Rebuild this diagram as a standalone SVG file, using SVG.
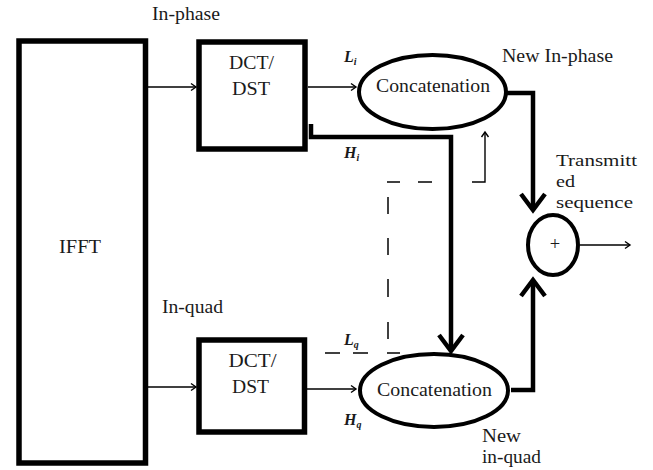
<svg xmlns="http://www.w3.org/2000/svg" width="653" height="470" viewBox="0 0 653 470">
<defs>
<style>
.box{fill:#fff;stroke:#000;stroke-width:5.5}
.ell{fill:#fff;stroke:#000;stroke-width:4}
.t{font-family:"Liberation Serif","Times New Roman",serif;font-size:18.5px;fill:#1a1a1a}
.ts{font-family:"Liberation Serif","Times New Roman",serif;font-size:17px;fill:#1a1a1a}
.it{font-family:"Liberation Serif","Times New Roman",serif;font-style:italic;font-weight:bold;font-size:16px;fill:#1a1a1a}
.sub{font-size:10px}
.thin{fill:none;stroke:#000;stroke-width:1.4}
.thick{fill:none;stroke:#000;stroke-width:4.5}
.dash{fill:none;stroke:#000;stroke-width:1.5}
</style>
<marker id="ah" markerUnits="userSpaceOnUse" markerWidth="10" markerHeight="10" refX="7" refY="5" orient="auto">
<path d="M2,1.5 L7,5 L2,8.5" fill="none" stroke="#000" stroke-width="1.4"/>
</marker>
<marker id="ahT" markerUnits="userSpaceOnUse" markerWidth="30" markerHeight="30" refX="20" refY="15" orient="auto">
<path d="M4,3 L20,15 L4,27" fill="none" stroke="#000" stroke-width="4.5"/>
</marker>
</defs>

<g id="connectors">
<line class="thin" x1="146" y1="87" x2="196" y2="87" marker-end="url(#ah)"/>
<line class="thin" x1="308" y1="87" x2="356" y2="87" marker-end="url(#ah)"/>
<line class="thin" x1="146" y1="387" x2="196" y2="387" marker-end="url(#ah)"/>
<line class="thin" x1="307" y1="389" x2="356" y2="389" marker-end="url(#ah)"/>
<polyline class="thin" points="472,182 485,182 485,132" marker-end="url(#ah)"/>
<polyline class="thick" points="311,124 311,137 451,137 451,351" marker-end="url(#ahT)"/>
<polyline class="thick" points="506,93 533,93 533,210" marker-end="url(#ahT)"/>
<polyline class="thick" points="511,390 533,390 533,280" marker-end="url(#ahT)"/>
<line class="thin" x1="580" y1="245" x2="630" y2="245" marker-end="url(#ah)"/>
<g id="dashed">
<line class="dash" x1="387" y1="182" x2="400" y2="182"/>
<line class="dash" x1="418" y1="182" x2="432" y2="182"/>
<line class="dash" x1="388" y1="197" x2="388" y2="214"/>
<line class="dash" x1="388" y1="238" x2="388" y2="255"/>
<line class="dash" x1="388" y1="279" x2="388" y2="297"/>
<line class="dash" x1="388" y1="322" x2="388" y2="339"/>
<line class="dash" x1="325" y1="353" x2="340" y2="353"/>
<line class="dash" x1="353" y1="353" x2="368" y2="353"/>
<line class="dash" x1="387" y1="353" x2="400" y2="353"/>
</g>
</g>

<g id="ifft">
<rect class="box" x="19" y="41" width="126.5" height="422"/>
<text class="t" x="80" y="253" text-anchor="middle" textLength="42" lengthAdjust="spacingAndGlyphs">IFFT</text>
</g>

<g id="dct-upper">
<rect class="box" x="199" y="42" width="106" height="107"/>
<text class="t" x="251.5" y="69" text-anchor="middle" textLength="45" lengthAdjust="spacingAndGlyphs">DCT/</text>
<text class="t" x="251" y="95" text-anchor="middle" textLength="38" lengthAdjust="spacingAndGlyphs">DST</text>
</g>

<g id="dct-lower">
<rect class="box" x="199" y="340" width="105.5" height="92"/>
<text class="t" x="252.5" y="367" text-anchor="middle" textLength="48" lengthAdjust="spacingAndGlyphs">DCT/</text>
<text class="t" x="250.5" y="393" text-anchor="middle" textLength="37" lengthAdjust="spacingAndGlyphs">DST</text>
</g>

<g id="concat-upper">
<ellipse class="ell" cx="432.5" cy="92" rx="73.5" ry="37"/>
<text class="t" x="433" y="92" text-anchor="middle" textLength="114" lengthAdjust="spacingAndGlyphs">Concatenation</text>
</g>

<g id="concat-lower">
<ellipse class="ell" cx="434" cy="390.5" rx="74" ry="36.5"/>
<text class="t" x="434.5" y="396" text-anchor="middle" textLength="115" lengthAdjust="spacingAndGlyphs">Concatenation</text>
</g>

<g id="adder">
<ellipse class="ell" cx="553" cy="245" rx="25" ry="30"/>
<text class="t" x="555" y="250" text-anchor="middle" font-size="15">+</text>
</g>

<g id="labels">
<text class="t" x="152" y="20" textLength="68" lengthAdjust="spacingAndGlyphs">In-phase</text>
<text class="t" x="162" y="313" textLength="61" lengthAdjust="spacingAndGlyphs">In-quad</text>
<text class="t" x="502" y="62" textLength="111" lengthAdjust="spacingAndGlyphs">New In-phase</text>
<text class="t" x="482" y="442" textLength="39" lengthAdjust="spacingAndGlyphs">New</text>
<text class="t" x="482" y="463" textLength="59" lengthAdjust="spacingAndGlyphs">in-quad</text>
<text class="ts" x="556" y="166" textLength="81" lengthAdjust="spacingAndGlyphs">Transmitt</text>
<text class="ts" x="556" y="187" textLength="19" lengthAdjust="spacingAndGlyphs">ed</text>
<text class="ts" x="556" y="208" textLength="77" lengthAdjust="spacingAndGlyphs">sequence</text>
<text class="it" x="344" y="62">L<tspan class="sub" dy="3">i</tspan></text>
<text class="it" x="344" y="158">H<tspan class="sub" dy="3">i</tspan></text>
<text class="it" x="344" y="345">L<tspan class="sub" dy="3">q</tspan></text>
<text class="it" x="344" y="425">H<tspan class="sub" dy="3">q</tspan></text>
</g>
</svg>
